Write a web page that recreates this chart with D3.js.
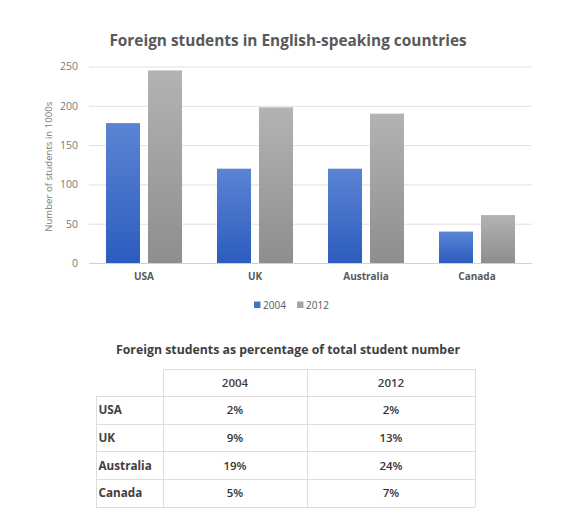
<!DOCTYPE html>
<html>
<head>
<meta charset="utf-8">
<script src="https://cdn.jsdelivr.net/npm/d3@7/dist/d3.min.js"></script>
<style>
  html, body { margin: 0; padding: 0; background: #fff; }
  svg { display: block; font-family: "Open Sans", "Noto Sans", sans-serif; }
</style>
</head>
<body>
<svg id="chart" width="569" height="526"></svg>
<script>
// ---- data ----
const countries = ["USA", "UK", "Australia", "Canada"];
const years = ["2004", "2012"];
const students2004 = [178, 120, 120, 40];
const students2012 = [245, 198, 190, 61];
const yTicks = [0, 50, 100, 150, 200, 250];
const pct2004 = ["2%", "9%", "19%", "5%"];
const pct2012 = ["2%", "13%", "24%", "7%"];
const chartTitle = "Foreign students in English-speaking countries";
const yAxisTitle = "Number of students in 1000s";
const tableTitle = "Foreign students as percentage of total student number";

const svg = d3.select("#chart");

// gradients
const defs = svg.append("defs");
const grads = [
  { id: "g2004", top: "#5b84d3", bottom: "#2c5cbf" },
  { id: "g2012", top: "#b3b3b3", bottom: "#8e8e8e" }
];
grads.forEach(g => {
  const lg = defs.append("linearGradient").attr("id", g.id)
    .attr("x1", 0).attr("y1", 0).attr("x2", 0).attr("y2", 1);
  lg.append("stop").attr("offset", "0%").attr("stop-color", g.top);
  lg.append("stop").attr("offset", "100%").attr("stop-color", g.bottom);
});
const colorOf = { "2004": "url(#g2004)", "2012": "url(#g2012)" };
const legendColor = { "2004": "#4472c4", "2012": "#a5a5a5" };

// ---- bar chart ----
const plot = { left: 89, right: 532, top: 66.5, bottom: 263 };
const x = d3.scaleBand().domain(countries).range([88.5, 532.5])
  .paddingInner(0.315).paddingOuter(0.1575);
const xs = d3.scaleBand().domain(years).range([0, x.bandwidth()]).paddingInner(0.19);
const y = d3.scaleLinear().domain([0, 250]).range([plot.bottom, plot.top]);

// title
svg.append("text").attr("x", 288).attr("y", 46)
  .attr("text-anchor", "middle").attr("font-size", 15.4).attr("font-weight", "bold")
  .attr("fill", "#595959").text(chartTitle);

// gridlines
svg.append("g").selectAll("line").data(yTicks).join("line")
  .attr("x1", plot.left).attr("x2", plot.right)
  .attr("y1", d => y(d) + 0.5).attr("y2", d => y(d) + 0.5)
  .attr("stroke", d => d === 0 ? "#d0d0d0" : "#e0e0e0").attr("stroke-width", 1);

// y axis labels
const yAxis = d3.axisLeft(y).tickValues(yTicks).tickSize(0).tickPadding(0);
const gy = svg.append("g").attr("transform", "translate(78,0)").call(yAxis);
gy.select(".domain").remove();
gy.selectAll("text").attr("font-size", 10.5).attr("fill", "#7a7a7a")
  .attr("font-family", "'Open Sans', sans-serif");

svg.append("text")
  .attr("transform", `translate(51.5,${(plot.top + plot.bottom) / 2 + 2}) rotate(-90)`)
  .attr("text-anchor", "middle").attr("font-size", 9.6).attr("fill", "#7a7a7a")
  .text(yAxisTitle);

// bars
const barData = [];
countries.forEach((c, i) => {
  barData.push({ c, yr: "2004", v: students2004[i] });
  barData.push({ c, yr: "2012", v: students2012[i] });
});
svg.append("g").selectAll("rect").data(barData).join("rect")
  .attr("x", d => x(d.c) + xs(d.yr))
  .attr("width", xs.bandwidth())
  .attr("y", d => y(d.v))
  .attr("height", d => y(0) - y(d.v))
  .attr("fill", d => colorOf[d.yr]);

// x axis labels
const xAxis = d3.axisBottom(x).tickSize(0).tickPadding(0);
const gx = svg.append("g").attr("transform", `translate(0,${plot.bottom + 10})`).call(xAxis);
gx.select(".domain").remove();
gx.selectAll("text").attr("font-size", 10).attr("font-weight", "bold")
  .attr("fill", "#595959").attr("font-family", "'Open Sans', sans-serif");

// legend
const legend = svg.append("g").attr("transform", "translate(254,305)");
const lx = d3.scaleOrdinal().domain(years).range([0, 43]);
years.forEach(yr => {
  const g = legend.append("g").attr("transform", `translate(${lx(yr)},0)`);
  g.append("rect").attr("x", 0).attr("y", -3.5).attr("width", 6.5).attr("height", 6.5)
    .attr("fill", legendColor[yr]);
  g.append("text").attr("x", 9).attr("y", 3.8).attr("font-size", 10)
    .attr("fill", "#595959").text(yr);
});

// ---- table ----
svg.append("text").attr("x", 288).attr("y", 354)
  .attr("text-anchor", "middle").attr("font-size", 12.3).attr("font-weight", "bold")
  .attr("fill", "#404040").text(tableTitle);

const tLeft = 96, tRight = 475;
const colEdges = { label: 96, "2004": 163, "2012": 307 };
const colRight = { label: 163, "2004": 307, "2012": 475 };
const rows = d3.scaleBand().domain(["head", ...countries]).range([369, 507]);
const lineColor = "#dedede";
const tg = svg.append("g").attr("shape-rendering", "crispEdges");

// top line (header only)
tg.append("line").attr("x1", colEdges["2004"]).attr("x2", tRight)
  .attr("y1", rows("head")).attr("y2", rows("head"))
  .attr("stroke", lineColor);
tg.selectAll("line.h").data(countries).join("line").attr("class", "h")
  .attr("x1", tLeft).attr("x2", tRight)
  .attr("y1", d => rows(d)).attr("y2", d => rows(d)).attr("stroke", lineColor);
tg.append("line").attr("x1", tLeft).attr("x2", tRight)
  .attr("y1", rows.range()[1]).attr("y2", rows.range()[1]).attr("stroke", lineColor);
// vertical lines
tg.append("line").attr("x1", tLeft).attr("x2", tLeft)
  .attr("y1", rows(countries[0])).attr("y2", rows.range()[1]).attr("stroke", lineColor);
[colEdges["2004"], colEdges["2012"], tRight].forEach(xx => {
  tg.append("line").attr("x1", xx).attr("x2", xx)
    .attr("y1", rows("head")).attr("y2", rows.range()[1]).attr("stroke", lineColor);
});

// header texts
years.forEach(yr => {
  svg.append("text")
    .attr("x", (colEdges[yr] + colRight[yr]) / 2)
    .attr("y", rows("head") + rows.bandwidth() / 2 + 4)
    .attr("text-anchor", "middle").attr("font-size", 11.5).attr("font-weight", 600)
    .attr("fill", "#404040").text(yr);
});
// row labels and values
const pct = { "2004": pct2004, "2012": pct2012 };
countries.forEach((c, i) => {
  const cy = rows(c) + rows.bandwidth() / 2 + 4;
  svg.append("text").attr("x", tLeft + 2.5).attr("y", cy)
    .attr("font-size", 11.7).attr("font-weight", "bold").attr("fill", "#404040").text(c);
  years.forEach(yr => {
    svg.append("text")
      .attr("x", (colEdges[yr] + colRight[yr]) / 2).attr("y", cy)
      .attr("text-anchor", "middle").attr("font-size", 11.5).attr("font-weight", 600)
      .attr("fill", "#333").text(pct[yr][i]);
  });
});
</script>
</body>
</html>
